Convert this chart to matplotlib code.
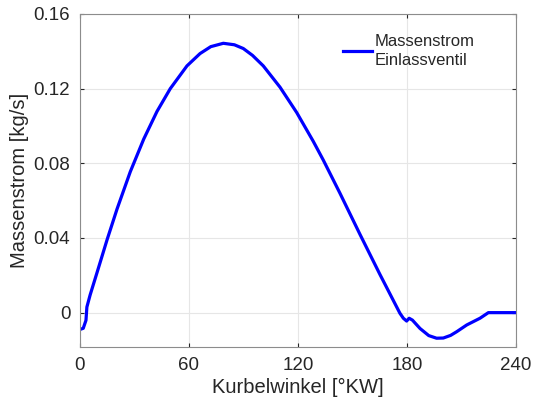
import matplotlib.pyplot as plt

plt.rcParams['font.family'] = ['Liberation Sans', 'DejaVu Sans']

kurbelwinkel = [0, 1.8, 3.3, 3.8, 5.6, 9.4, 14.9, 20.4, 27.7, 35.1, 42.4, 49.7,
                58.9, 66.1, 72.0, 78.9, 85.0, 89.9, 95.0, 100.9, 110.1, 119.3,
                128.4, 133.9, 143.1, 154.1, 165.1, 176.1, 178.0, 179.8, 181.2,
                183.0, 187.2, 192.0, 196.3, 200.0, 204.0, 207.4, 212.9, 220.2,
                224.8, 240]
massenstrom = [-0.009, -0.0084, -0.0041, 0.003, 0.0095, 0.0215, 0.039, 0.0555,
               0.0755, 0.093, 0.1078, 0.12, 0.1322, 0.1388, 0.1425, 0.1443,
               0.1435, 0.1415, 0.1378, 0.1322, 0.1208, 0.1072, 0.0918, 0.0818,
               0.064, 0.042, 0.0205, -0.0003, -0.003, -0.0045, -0.003, -0.004,
               -0.0085, -0.0123, -0.0137, -0.0136, -0.0122, -0.0102, -0.0066,
               -0.003, 0.0, 0.0]

xticks = [0, 60, 120, 180, 240]
yticks = [0, 0.04, 0.08, 0.12, 0.16]
yticklabels = ["0", "0.04", "0.08", "0.12", "0.16"]

fig = plt.figure(figsize=(5.4, 4.03), dpi=100)
ax = fig.add_axes([0.1481, 0.139, 0.8074, 0.8263])

ax.plot(kurbelwinkel, massenstrom, color="#0000ff", linewidth=2.3,
        label="Massenstrom\nEinlassventil")

ax.set_xlim(0, 240)
ax.set_ylim(-0.0184, 0.16)
ax.set_xticks(xticks)
ax.set_yticks(yticks)
ax.set_yticklabels(yticklabels)
ax.grid(True, color="#e6e6e6", linewidth=0.8)
ax.set_axisbelow(True)
ax.tick_params(direction="in", length=3, labelsize=13.5, colors="#262626",
               top=True, right=True, pad=7)
for s in ax.spines.values():
    s.set_color("#8c8c8c")
    s.set_linewidth(0.8)

ax.set_xlabel("Kurbelwinkel [°KW]", fontsize=14.5, color="#262626", labelpad=3)
ax.set_ylabel("Massenstrom [kg/s]", fontsize=14.5, color="#262626", labelpad=3)

leg = ax.legend(loc="center left", frameon=False, fontsize=12, handlelength=1.75,
                handletextpad=0.15, borderpad=0, borderaxespad=0,
                bbox_to_anchor=(0.603, 0.889))
for t in leg.get_texts():
    t.set_linespacing(1.35)
    t.set_color("#262626")

fig.savefig("out.png", dpi=100)
